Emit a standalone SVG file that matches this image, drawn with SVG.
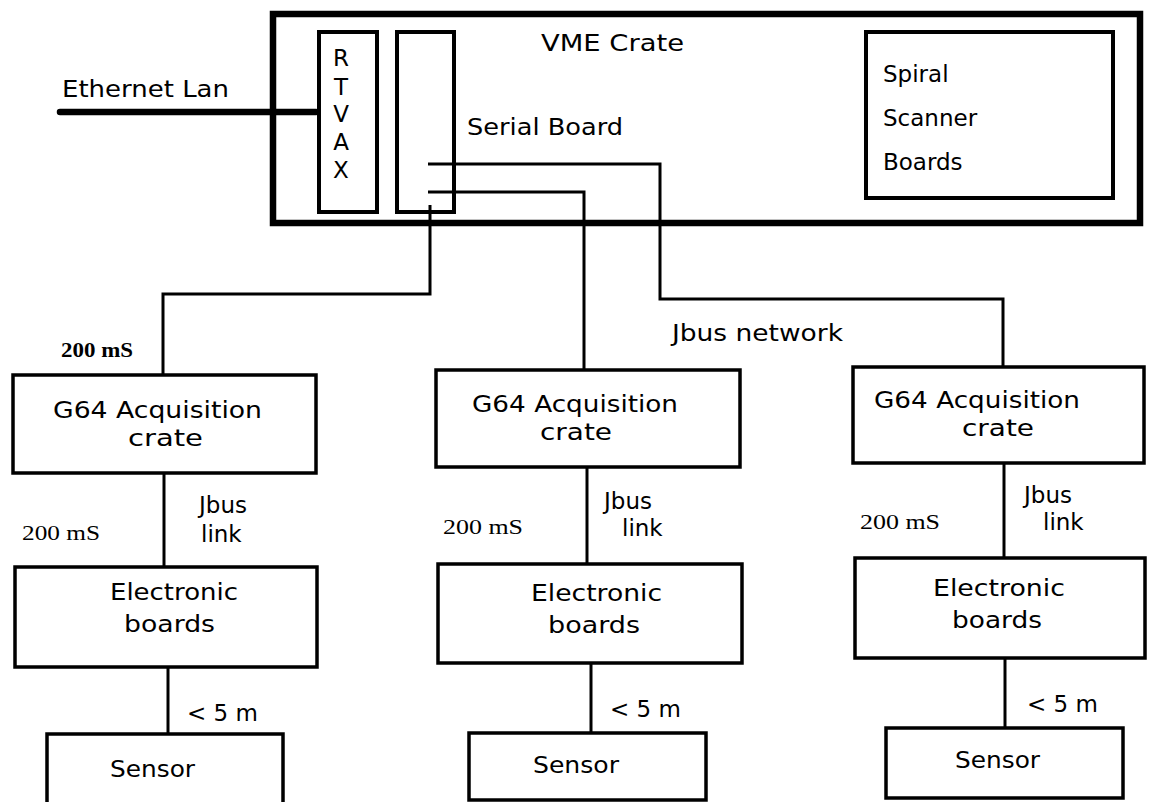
<svg xmlns="http://www.w3.org/2000/svg" width="1149" height="802" viewBox="0 0 1149 802">
<style>
.bx{fill:none;stroke:#000;stroke-width:3.5}
.thick{fill:none;stroke:#000;stroke-width:6.5}
.mid{fill:none;stroke:#000;stroke-width:4}
.ln{fill:none;stroke:#000;stroke-width:3}
.t{font-family:"DejaVu Sans",sans-serif;font-size:23px;fill:#000}
.s{font-family:"Liberation Serif",serif;font-size:21px;fill:#000}
.sb{font-family:"Liberation Serif",serif;font-size:21px;font-weight:bold;fill:#000}
</style>
<rect width="1149" height="802" fill="#fff"/>
<g id="connectors">
<line x1="60" y1="112" x2="316" y2="112" stroke="#000" stroke-width="6.5" stroke-linecap="round"/>
<polyline class="ln" points="428,164 660,164 660,299 1003,299 1003,367"/>
<polyline class="ln" points="428,192 584,192 584,370"/>
<polyline class="ln" points="430,205 430,294 163,294 163,375"/>
<line class="ln" x1="164" y1="473" x2="164" y2="567"/>
<line class="ln" x1="168" y1="667" x2="168" y2="734"/>
<line class="ln" x1="587" y1="467" x2="587" y2="564"/>
<line class="ln" x1="591" y1="663" x2="591" y2="733"/>
<line class="ln" x1="1004" y1="463" x2="1004" y2="558"/>
<line class="ln" x1="1005" y1="658" x2="1005" y2="728"/>
</g>
<g id="ethernet-label"><text class="t" x="62" y="97" textLength="167" lengthAdjust="spacingAndGlyphs">Ethernet Lan</text></g>
<g id="vme-crate">
<rect class="thick" x="273" y="14" width="867" height="209"/>
<text class="t" x="541" y="51" textLength="143" lengthAdjust="spacingAndGlyphs">VME Crate</text>
</g>
<g id="rtvax">
<rect class="mid" x="319" y="32" width="58" height="180"/>
<text class="t" x="341" y="66" text-anchor="middle">R</text>
<text class="t" x="341" y="95" text-anchor="middle">T</text>
<text class="t" x="341" y="122" text-anchor="middle">V</text>
<text class="t" x="341" y="150" text-anchor="middle">A</text>
<text class="t" x="341" y="178" text-anchor="middle">X</text>
</g>
<g id="serial-board">
<rect class="mid" x="397" y="32" width="57" height="180"/>
<text class="t" x="467" y="135" textLength="156" lengthAdjust="spacingAndGlyphs">Serial Board</text>
</g>
<g id="spiral-scanner">
<rect class="mid" x="866" y="32" width="247" height="166"/>
<text class="t" x="883" y="82">Spiral</text>
<text class="t" x="883" y="126">Scanner</text>
<text class="t" x="883" y="170">Boards</text>
</g>
<g id="labels">
<text class="sb" x="61" y="357" textLength="72" lengthAdjust="spacingAndGlyphs">200 mS</text>
<text class="t" x="672" y="341" textLength="171" lengthAdjust="spacingAndGlyphs">Jbus network</text>
<text class="s" x="22" y="540" textLength="78" lengthAdjust="spacingAndGlyphs">200 mS</text>
<text class="t" x="199" y="513">Jbus</text>
<text class="t" x="201" y="542">link</text>
<text class="s" x="443" y="534" textLength="80" lengthAdjust="spacingAndGlyphs">200 mS</text>
<text class="t" x="604" y="509">Jbus</text>
<text class="t" x="622" y="536">link</text>
<text class="s" x="860" y="529" textLength="80" lengthAdjust="spacingAndGlyphs">200 mS</text>
<text class="t" x="1024" y="503">Jbus</text>
<text class="t" x="1043" y="530">link</text>
<text class="t" x="187" y="721">&lt; 5 m</text>
<text class="t" x="610" y="717">&lt; 5 m</text>
<text class="t" x="1027" y="712">&lt; 5 m</text>
</g>
<g id="g64-1">
<rect class="bx" x="13" y="375" width="303" height="98"/>
<text class="t" x="53" y="418" textLength="209" lengthAdjust="spacingAndGlyphs">G64 Acquisition</text>
<text class="t" x="128" y="446" textLength="75" lengthAdjust="spacingAndGlyphs">crate</text>
</g>
<g id="g64-2">
<rect class="bx" x="436" y="370" width="304" height="97"/>
<text class="t" x="472" y="412" textLength="206" lengthAdjust="spacingAndGlyphs">G64 Acquisition</text>
<text class="t" x="540" y="440" textLength="72" lengthAdjust="spacingAndGlyphs">crate</text>
</g>
<g id="g64-3">
<rect class="bx" x="853" y="367" width="291" height="96"/>
<text class="t" x="874" y="408" textLength="206" lengthAdjust="spacingAndGlyphs">G64 Acquisition</text>
<text class="t" x="962" y="436" textLength="72" lengthAdjust="spacingAndGlyphs">crate</text>
</g>
<g id="electronic-1">
<rect class="bx" x="15" y="567" width="302" height="100"/>
<text class="t" x="110" y="600" textLength="128" lengthAdjust="spacingAndGlyphs">Electronic</text>
<text class="t" x="124" y="632" textLength="91" lengthAdjust="spacingAndGlyphs">boards</text>
</g>
<g id="electronic-2">
<rect class="bx" x="438" y="564" width="304" height="99"/>
<text class="t" x="531" y="601" textLength="131" lengthAdjust="spacingAndGlyphs">Electronic</text>
<text class="t" x="548" y="633" textLength="92" lengthAdjust="spacingAndGlyphs">boards</text>
</g>
<g id="electronic-3">
<rect class="bx" x="855" y="558" width="290" height="100"/>
<text class="t" x="933" y="596" textLength="132" lengthAdjust="spacingAndGlyphs">Electronic</text>
<text class="t" x="952" y="628" textLength="90" lengthAdjust="spacingAndGlyphs">boards</text>
</g>
<g id="sensor-1">
<rect class="bx" x="47" y="734" width="236" height="74"/>
<text class="t" x="110" y="777" textLength="85" lengthAdjust="spacingAndGlyphs">Sensor</text>
</g>
<g id="sensor-2">
<rect class="bx" x="469" y="733" width="237" height="67"/>
<text class="t" x="533" y="773" textLength="86" lengthAdjust="spacingAndGlyphs">Sensor</text>
</g>
<g id="sensor-3">
<rect class="bx" x="886" y="728" width="237" height="70"/>
<text class="t" x="955" y="768" textLength="85" lengthAdjust="spacingAndGlyphs">Sensor</text>
</g>
</svg>
